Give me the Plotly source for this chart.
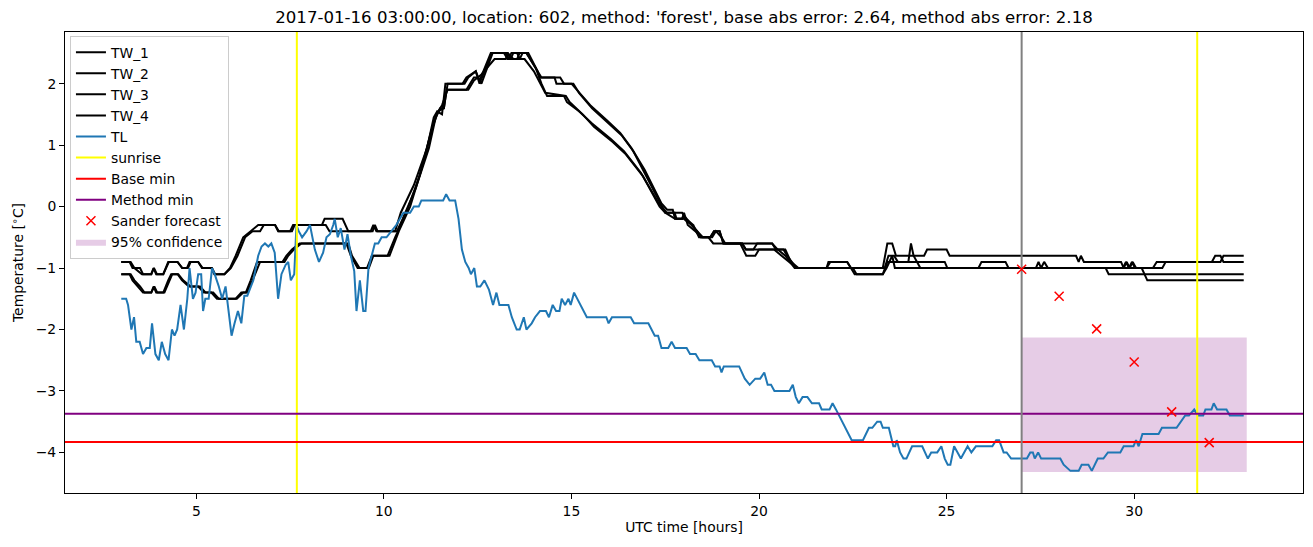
import plotly.graph_objects as go

# ---------------- data ----------------
TW_1 = [(3.0,-0.9),(3.22,-0.9),(3.3,-1.0),(3.5,-1.0),(3.58,-1.1),(3.8,-1.1),(3.86,-1.0),(3.93,-1.1),(4.12,-1.1),
        (4.25,-0.9),(4.5,-0.9),(4.62,-1.0),(4.75,-1.0),(4.82,-0.9),(5.05,-0.9),(5.15,-1.0),(5.4,-1.0),(5.48,-1.1),
        (5.75,-1.1),(5.9,-1.0),(6.05,-0.8),(6.25,-0.5),(6.45,-0.4),(6.65,-0.3),(7.1,-0.3),(7.18,-0.4),(7.5,-0.4),
        (7.58,-0.3),(8.35,-0.3),(8.42,-0.2),(8.9,-0.2),(9.05,-0.4),(9.65,-0.4),(9.72,-0.3),(9.8,-0.4),(10.3,-0.4),
        (10.45,-0.1),(10.8,0.35),(11.15,0.95),(11.33,1.45),(11.42,1.55),(11.55,1.5),(11.64,2.0),(12.1,2.0),(12.2,2.1),
        (12.45,2.2),(12.55,2.05),(12.85,2.5),(13.25,2.5),(13.32,2.4),(13.4,2.5),(13.55,2.5),(13.62,2.4),(13.7,2.5),
        (13.8,2.5),(14.1,2.2),(14.2,2.1),(14.55,2.1),(14.6,2.0),(15.0,2.0),(15.15,1.9),(15.5,1.65),(15.95,1.4),
        (16.3,1.2),(16.6,0.95),(16.95,0.6),(17.4,0.05),(17.55,-0.05),(17.7,-0.05),(17.76,-0.2),(17.95,-0.2),(18.0,-0.1),
        (18.1,-0.3),(18.3,-0.4),(18.45,-0.5),(18.7,-0.5),(18.8,-0.4),(18.95,-0.4),(19.05,-0.6),(19.55,-0.6),(19.65,-0.7),
        (19.85,-0.7),(19.95,-0.6),(20.35,-0.6),(20.45,-0.7),(20.65,-0.7),(20.75,-0.8),(21.0,-1.0),(21.8,-1.0),(21.85,-0.9),
        (22.35,-0.9),(22.45,-1.0),(23.3,-1.0),(23.42,-0.6),(23.55,-0.6),(23.65,-0.8),(24.4,-0.8),(24.48,-0.7),(25.0,-0.7),
        (25.08,-0.8),(28.45,-0.8),(28.52,-0.9),(28.58,-0.8),(28.66,-0.9),(29.65,-0.9),(29.72,-1.0),(29.8,-0.9),(29.88,-1.0),
        (29.96,-0.9),(30.05,-1.0),(30.5,-1.0),(30.6,-0.9),(32.3,-0.9),(32.38,-0.8),(32.92,-0.8)]

TW_2 = [(3.0,-0.9),(3.25,-0.9),(3.35,-1.0),(3.55,-1.1),(3.8,-1.1),(3.87,-1.0),(3.95,-1.1),(4.12,-1.1),(4.27,-0.9),
        (4.5,-0.9),(4.63,-1.0),(4.78,-1.0),(4.85,-0.9),(5.05,-0.9),(5.17,-1.0),(5.42,-1.0),(5.5,-1.1),(5.75,-1.1),
        (5.92,-1.0),(6.1,-0.8),(6.3,-0.5),(6.5,-0.4),(6.7,-0.4),(6.8,-0.3),(7.1,-0.3),(7.2,-0.4),(7.55,-0.4),(7.62,-0.3),
        (8.45,-0.3),(8.55,-0.4),(9.7,-0.4),(9.76,-0.3),(9.83,-0.4),(10.35,-0.4),(10.5,-0.2),(10.85,0.3),(11.2,0.95),
        (11.38,1.45),(11.5,1.6),(11.6,1.6),(11.67,1.9),(12.2,1.9),(12.3,2.0),(12.4,2.1),(12.5,2.1),(12.6,2.0),(12.9,2.5),
        (13.2,2.5),(13.3,2.4),(13.55,2.4),(13.62,2.5),(13.85,2.5),(14.1,2.2),(14.15,2.1),(14.7,2.1),(14.8,2.0),(15.05,2.0),
        (15.2,1.85),(15.55,1.6),(16.0,1.35),(16.35,1.15),(16.65,0.9),(16.95,0.55),(17.4,0.0),(17.5,-0.1),(17.75,-0.1),
        (17.8,-0.2),(18.0,-0.2),(18.2,-0.3),(18.35,-0.4),(18.5,-0.5),(18.75,-0.5),(18.85,-0.4),(19.0,-0.5),(19.1,-0.6),
        (20.35,-0.6),(20.5,-0.7),(20.7,-0.7),(20.85,-0.9),(21.05,-1.0),(22.45,-1.0),(22.55,-1.1),(23.3,-1.1),(23.42,-0.9),
        (24.95,-0.9),(25.02,-1.0),(25.85,-1.0),(25.93,-0.9),(26.57,-0.9),(26.65,-1.0),(27.38,-1.0),(27.45,-0.9),
        (27.52,-1.0),(27.6,-0.9),(27.7,-1.0),(29.7,-1.0),(29.78,-0.9),(29.86,-1.0),(29.94,-0.9),(30.02,-1.0),(30.75,-1.0),
        (30.84,-0.9),(32.07,-0.9),(32.16,-0.8),(32.3,-0.8),(32.38,-0.9),(32.92,-0.9)]

TW_3 = [(3.0,-1.1),(3.22,-1.1),(3.3,-1.2),(3.45,-1.3),(3.58,-1.4),(3.8,-1.4),(3.86,-1.3),(3.93,-1.4),(4.12,-1.4),
        (4.25,-1.2),(4.33,-1.1),(4.5,-1.1),(4.62,-1.2),(4.8,-1.3),(5.05,-1.3),(5.2,-1.4),(5.4,-1.4),(5.55,-1.5),
        (6.05,-1.5),(6.2,-1.4),(6.32,-1.4),(6.45,-1.2),(6.62,-0.9),(7.3,-0.9),(7.4,-0.8),(7.55,-0.7),(7.75,-0.6),
        (9.0,-0.6),(9.12,-0.8),(9.3,-1.0),(9.55,-1.0),(9.68,-0.8),(10.1,-0.8),(10.3,-0.5),(10.6,-0.1),(10.95,0.5),
        (11.25,1.2),(11.4,1.5),(11.55,1.65),(11.7,1.9),(12.25,1.9),(12.4,2.05),(12.6,2.15),(12.95,2.4),(13.25,2.4),
        (13.3,2.5),(13.45,2.4),(13.75,2.4),(14.0,2.2),(14.3,1.85),(14.85,1.8),(14.95,1.7),(15.3,1.5),(15.6,1.3),
        (16.1,1.05),(16.45,0.85),(16.9,0.5),(17.35,0.0),(17.5,-0.1),(17.76,-0.2),(17.95,-0.2),(18.0,-0.15),(18.2,-0.3),
        (18.35,-0.4),(18.45,-0.5),(18.7,-0.5),(18.8,-0.4),(18.95,-0.4),(19.05,-0.6),(19.55,-0.6),(19.65,-0.7),(20.5,-0.7),
        (20.7,-0.8),(20.95,-1.0),(21.8,-1.0),(21.9,-0.9),(22.35,-0.9),(22.45,-1.0),(23.35,-1.0),(23.45,-0.8),(23.6,-0.8),
        (23.7,-0.9),(23.98,-0.9),(24.05,-0.6),(24.12,-0.8),(24.3,-1.0),(29.24,-1.0),(29.32,-1.1),(32.92,-1.1)]

TW_4 = [(3.0,-1.1),(3.25,-1.1),(3.35,-1.2),(3.5,-1.3),(3.62,-1.4),(3.8,-1.4),(3.88,-1.3),(3.96,-1.4),(4.15,-1.4),
        (4.28,-1.2),(4.36,-1.1),(4.52,-1.1),(4.65,-1.2),(4.85,-1.3),(5.1,-1.3),(5.25,-1.4),(5.45,-1.4),(5.6,-1.5),
        (6.08,-1.5),(6.25,-1.4),(6.35,-1.4),(6.5,-1.2),(6.7,-0.9),(7.35,-0.9),(7.45,-0.8),(7.6,-0.7),(7.8,-0.6),
        (9.05,-0.6),(9.15,-0.8),(9.35,-1.0),(9.6,-1.0),(9.72,-0.8),(10.15,-0.8),(10.4,-0.4),(10.7,0.0),(11.0,0.6),
        (11.3,1.3),(11.45,1.55),(11.6,1.6),(11.7,2.0),(12.15,2.0),(12.25,2.1),(12.45,2.2),(12.55,2.0),(12.88,2.5),
        (13.3,2.5),(13.38,2.4),(13.45,2.5),(13.8,2.5),(14.05,2.25),(14.2,2.0),(14.35,1.8),(14.8,1.8),(14.88,1.7),
        (15.2,1.55),(15.55,1.35),(16.05,1.1),(16.4,0.9),(16.85,0.55),(17.33,0.05),(17.54,-0.1),(17.95,-0.1),(18.05,-0.2),
        (18.25,-0.3),(18.4,-0.5),(18.65,-0.5),(18.78,-0.6),(19.5,-0.6),(19.66,-0.8),(19.9,-0.8),(20.0,-0.7),(20.4,-0.7),
        (20.6,-0.8),(20.8,-0.9),(21.0,-1.0),(22.5,-1.0),(22.6,-1.1),(23.3,-1.1),(23.4,-1.0),(23.55,-0.8),(23.62,-1.0),
        (30.2,-1.0),(30.35,-1.2),(32.92,-1.2)]

TL = [(3.0,-1.5),(3.13,-1.5),(3.18,-1.6),(3.27,-2.0),(3.34,-1.8),(3.40,-2.2),(3.49,-2.2),(3.58,-2.4),(3.67,-2.3),
      (3.76,-2.3),(3.82,-1.9),(3.91,-2.4),(4.0,-2.5),(4.08,-2.2),(4.17,-2.4),(4.26,-2.5),(4.35,-2.0),(4.42,-2.1),
      (4.49,-2.0),(4.58,-1.6),(4.67,-2.0),(4.76,-1.5),(4.82,-1.0),(4.91,-1.5),(4.98,-1.4),(5.05,-1.1),(5.13,-1.1),
      (5.18,-1.7),(5.24,-1.5),(5.33,-1.5),(5.42,-1.0),(5.49,-1.1),(5.60,-1.3),(5.69,-1.5),(5.78,-1.3),(5.94,-2.1),
      (6.02,-1.9),(6.11,-1.7),(6.20,-1.9),(6.28,-1.45),(6.36,-1.45),(6.52,-1.2),(6.65,-0.8),(6.74,-0.65),(6.83,-0.6),
      (6.92,-0.65),(7.0,-0.6),(7.09,-0.75),(7.18,-1.5),(7.27,-1.1),(7.38,-0.95),(7.45,-0.9),(7.52,-1.2),(7.61,-1.1),
      (7.67,-0.3),(7.73,-0.4),(7.82,-0.5),(7.94,-0.4),(8.03,-0.3),(8.16,-0.7),(8.27,-0.9),(8.38,-0.75),(8.47,-0.5),
      (8.56,-0.45),(8.65,-0.3),(8.69,-0.2),(8.77,-0.5),(8.85,-0.35),(8.95,-0.7),(9.03,-0.45),(9.12,-0.8),(9.21,-1.05),
      (9.27,-1.7),(9.36,-1.2),(9.45,-1.7),(9.51,-1.7),(9.59,-1.0),(9.67,-0.8),(9.76,-0.6),(9.85,-0.6),(9.94,-0.5),
      (10.07,-0.5),(10.2,-0.4),(10.33,-0.3),(10.52,-0.1),(10.7,-0.1),(10.8,0.0),(10.93,0.0),(11.0,0.1),(11.58,0.1),
      (11.66,0.2),(11.75,0.1),(11.9,0.1),(11.99,-0.2),(12.08,-0.7),(12.17,-0.9),(12.26,-1.0),(12.32,-1.1),(12.41,-1.0),
      (12.48,-1.3),(12.57,-1.3),(12.68,-1.2),(12.8,-1.35),(12.91,-1.6),(13.0,-1.4),(13.08,-1.6),(13.32,-1.6),
      (13.41,-1.8),(13.54,-2.0),(13.62,-2.0),(13.73,-1.8),(13.8,-2.0),(13.94,-1.9),(14.03,-1.8),(14.16,-1.7),
      (14.32,-1.7),(14.4,-1.8),(14.5,-1.6),(14.59,-1.7),(14.68,-1.7),(14.74,-1.5),(14.83,-1.6),(14.92,-1.5),
      (14.98,-1.6),(15.07,-1.4),(15.41,-1.8),(15.93,-1.8),(15.99,-1.9),(16.08,-1.8),(16.58,-1.8),(16.67,-1.9),
      (17.05,-1.9),(17.22,-2.1),(17.31,-2.1),(17.40,-2.3),(17.58,-2.3),(17.67,-2.2),(17.76,-2.3),(18.07,-2.3),
      (18.16,-2.4),(18.31,-2.4),(18.41,-2.5),(18.74,-2.5),(18.83,-2.6),(18.95,-2.6),(19.0,-2.7),(19.06,-2.6),
      (19.47,-2.6),(19.62,-2.8),(19.75,-2.9),(19.9,-2.8),(20.03,-2.8),(20.14,-2.7),(20.23,-2.9),(20.32,-2.9),
      (20.41,-3.0),(20.81,-3.0),(20.9,-2.9),(20.98,-3.1),(21.06,-3.2),(21.16,-3.1),(21.29,-3.1),(21.41,-3.2),
      (21.6,-3.2),(21.67,-3.3),(21.88,-3.3),(21.96,-3.2),(22.05,-3.3),(22.47,-3.8),(22.77,-3.8),(22.93,-3.6),
      (23.02,-3.6),(23.15,-3.5),(23.24,-3.5),(23.3,-3.6),(23.46,-3.6),(23.58,-3.9),(23.63,-3.9),(23.67,-3.8),
      (23.76,-4.0),(23.85,-4.1),(23.93,-4.1),(24.08,-3.9),(24.35,-3.9),(24.5,-4.1),(24.59,-4.0),(24.75,-4.0),
      (24.86,-3.9),(24.95,-4.1),(25.03,-4.2),(25.1,-4.2),(25.2,-3.9),(25.38,-4.1),(25.56,-3.9),(25.66,-4.0),
      (25.78,-3.9),(26.22,-3.9),(26.32,-3.8),(26.4,-3.8),(26.52,-4.0),(26.6,-4.0),(26.72,-4.1),(27.14,-4.1),
      (27.23,-4.0),(27.3,-4.0),(27.35,-4.1),(27.44,-4.0),(27.52,-4.1),(28.03,-4.1),(28.12,-4.2),(28.3,-4.3),
      (28.52,-4.3),(28.6,-4.2),(28.78,-4.2),(28.87,-4.3),(29.03,-4.1),(29.18,-4.1),(29.3,-4.0),(29.63,-4.0),
      (29.72,-3.9),(29.98,-3.9),(30.05,-3.8),(30.12,-3.9),(30.22,-3.7),(30.65,-3.7),(30.74,-3.6),(31.13,-3.6),
      (31.24,-3.5),(31.36,-3.4),(31.46,-3.4),(31.6,-3.3),(31.7,-3.4),(31.84,-3.4),(31.9,-3.3),(32.06,-3.3),
      (32.12,-3.2),(32.21,-3.3),(32.46,-3.3),(32.55,-3.4),(32.92,-3.4)]

sunrise_times = [7.68, 31.68]
forecast_start = 27.0
base_min = -3.83
method_min = -3.37
sander_hours = [27, 28, 29, 30, 31, 32]
sander_values = [-1.02, -1.46, -1.99, -2.53, -3.34, -3.84]
conf_hours = [27.0, 33.0]
conf_low = -4.32
conf_high = -2.13

x_range = [1.5, 34.5]
y_range = [-4.66, 2.84]
x_ticks = [5, 10, 15, 20, 25, 30]
y_ticks = [-4, -3, -2, -1, 0, 1, 2]

title = ("2017-01-16 03:00:00, location: 602, method: 'forest', "
         "base abs error: 2.64, method abs error: 2.18")

# ---------------- figure ----------------
FONT = "DejaVu Sans"
FS = 13.9
fig = go.Figure()

# confidence band (drawn first, listed last in legend)
fig.add_trace(go.Scatter(
    x=[conf_hours[0], conf_hours[1], conf_hours[1], conf_hours[0], conf_hours[0]],
    y=[conf_low, conf_low, conf_high, conf_high, conf_low],
    fill="toself", fillcolor="rgba(128,0,128,0.2)", line=dict(width=0),
    mode="lines", name="95% confidence", legendrank=10, hoverinfo="skip"))

for i, series in enumerate([TW_1, TW_2, TW_3, TW_4]):
    fig.add_trace(go.Scatter(
        x=[p[0] for p in series], y=[p[1] for p in series], mode="lines",
        line=dict(color="black", width=2), name=f"TW_{i+1}", legendrank=i + 1))

fig.add_trace(go.Scatter(
    x=[p[0] for p in TL], y=[p[1] for p in TL], mode="lines",
    line=dict(color="#1f77b4", width=2), name="TL", legendrank=5))

sx, sy = [], []
for t in sunrise_times:
    sx += [t, t, None]
    sy += [y_range[0], y_range[1], None]
fig.add_trace(go.Scatter(x=sx, y=sy, mode="lines", line=dict(color="yellow", width=2),
                         name="sunrise", legendrank=6))

fig.add_trace(go.Scatter(x=x_range, y=[base_min, base_min], mode="lines",
                         line=dict(color="red", width=2), name="Base min", legendrank=7))
fig.add_trace(go.Scatter(x=x_range, y=[method_min, method_min], mode="lines",
                         line=dict(color="purple", width=2), name="Method min", legendrank=8))

fig.add_trace(go.Scatter(x=[forecast_start, forecast_start], y=y_range, mode="lines",
                         line=dict(color="gray", width=2), showlegend=False))

fig.add_trace(go.Scatter(
    x=sander_hours, y=sander_values, mode="markers", name="Sander forecast", legendrank=9,
    marker=dict(symbol="x-thin", size=9, color="red", line=dict(color="red", width=1.5))))

axis_common = dict(showline=True, mirror=True, linecolor="black", linewidth=1,
                   ticks="outside", ticklen=5, tickwidth=1, tickcolor="black",
                   showgrid=False, zeroline=False,
                   tickfont=dict(family=FONT, size=FS, color="black"))

fig.update_layout(
    width=1313, height=547,
    margin=dict(l=65, r=10, t=32, b=54),
    paper_bgcolor="white", plot_bgcolor="white",
    font=dict(family=FONT, size=FS, color="black"),
    title=dict(text=title, x=0.5, xref="paper", xanchor="center",
               y=1 - 17 / 547, yref="container", yanchor="middle",
               font=dict(family=FONT, size=16.6, color="black")),
    xaxis=dict(range=x_range, tickvals=x_ticks,
               title=dict(text="UTC time [hours]", font=dict(family=FONT, size=FS), standoff=4),
               **axis_common),
    yaxis=dict(range=y_range, tickvals=y_ticks,
               title=dict(text="Temperature [<sup>∘</sup>C]", font=dict(family=FONT, size=FS), standoff=8),
               **axis_common),
    legend=dict(x=0.004, y=0.992, xanchor="left", yanchor="top",
                bgcolor="rgba(255,255,255,0.8)", bordercolor="#cccccc", borderwidth=1,
                font=dict(family=FONT, size=FS, color="black"), itemwidth=30,
                traceorder="normal"),
    showlegend=True,
)

fig.write_html("out.html")
